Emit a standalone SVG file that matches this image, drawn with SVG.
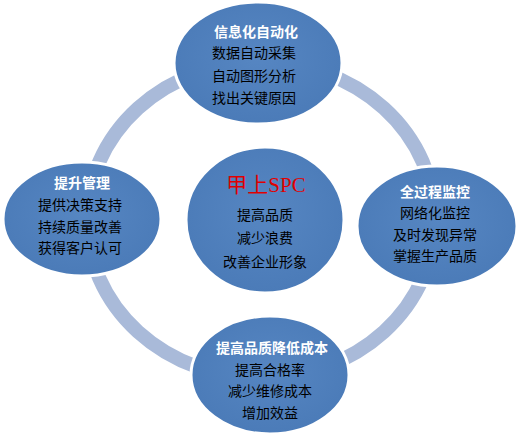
<svg xmlns="http://www.w3.org/2000/svg" width="519" height="441" viewBox="0 0 519 441">
<defs>
<radialGradient id="g" cx="50%" cy="45%" r="60%">
<stop offset="0" stop-color="#5686c2"/>
<stop offset="1" stop-color="#4a7ab7"/>
</radialGradient>
</defs>
<style>
.node{fill:url(#g);stroke:#ffffff;stroke-width:3}
.t{font-family:"Noto Sans CJK SC","Liberation Sans",sans-serif;font-size:14px;fill:#ffffff;font-weight:bold;text-anchor:middle}
.l{font-family:"Noto Sans CJK SC","Liberation Sans",sans-serif;font-size:14px;fill:#000000;text-anchor:middle}
.c{font-family:"Liberation Serif","Noto Sans CJK SC",serif;font-size:21px;fill:#e00000;text-anchor:middle}
</style>
<rect width="519" height="441" fill="#ffffff"/>
<g id="connectors">
<ellipse cx="261" cy="220" rx="174" ry="158" fill="none" stroke="#a9bad9" stroke-width="14"/>
</g>
<g id="center">
<ellipse class="node" cx="265" cy="220" rx="79" ry="73"/>
<text class="c" x="266" y="192">甲上SPC</text>
<text class="l" x="265" y="220">提高品质</text>
<text class="l" x="265" y="243">减少浪费</text>
<text class="l" x="265" y="267">改善企业形象</text>
</g>
<g id="top">
<ellipse class="node" cx="258" cy="63" rx="84" ry="61"/>
<text class="t" x="256" y="37">信息化自动化</text>
<text class="l" x="254" y="58">数据自动采集</text>
<text class="l" x="254" y="81">自动图形分析</text>
<text class="l" x="254" y="103">找出关键原因</text>
</g>
<g id="left">
<ellipse class="node" cx="82" cy="219" rx="79" ry="57"/>
<text class="t" x="82" y="188">提升管理</text>
<text class="l" x="80" y="210">提供决策支持</text>
<text class="l" x="80" y="232">持续质量改善</text>
<text class="l" x="80" y="253">获得客户认可</text>
</g>
<g id="right">
<ellipse class="node" cx="437" cy="226" rx="80" ry="60"/>
<text class="t" x="435" y="197">全过程监控</text>
<text class="l" x="435" y="218">网络化监控</text>
<text class="l" x="435" y="240">及时发现异常</text>
<text class="l" x="435" y="261">掌握生产品质</text>
</g>
<g id="bottom">
<ellipse class="node" cx="270" cy="375" rx="79" ry="59"/>
<text class="t" x="272" y="353">提高品质降低成本</text>
<text class="l" x="270" y="375">提高合格率</text>
<text class="l" x="270" y="396">减少维修成本</text>
<text class="l" x="270" y="418">增加效益</text>
</g>
</svg>
